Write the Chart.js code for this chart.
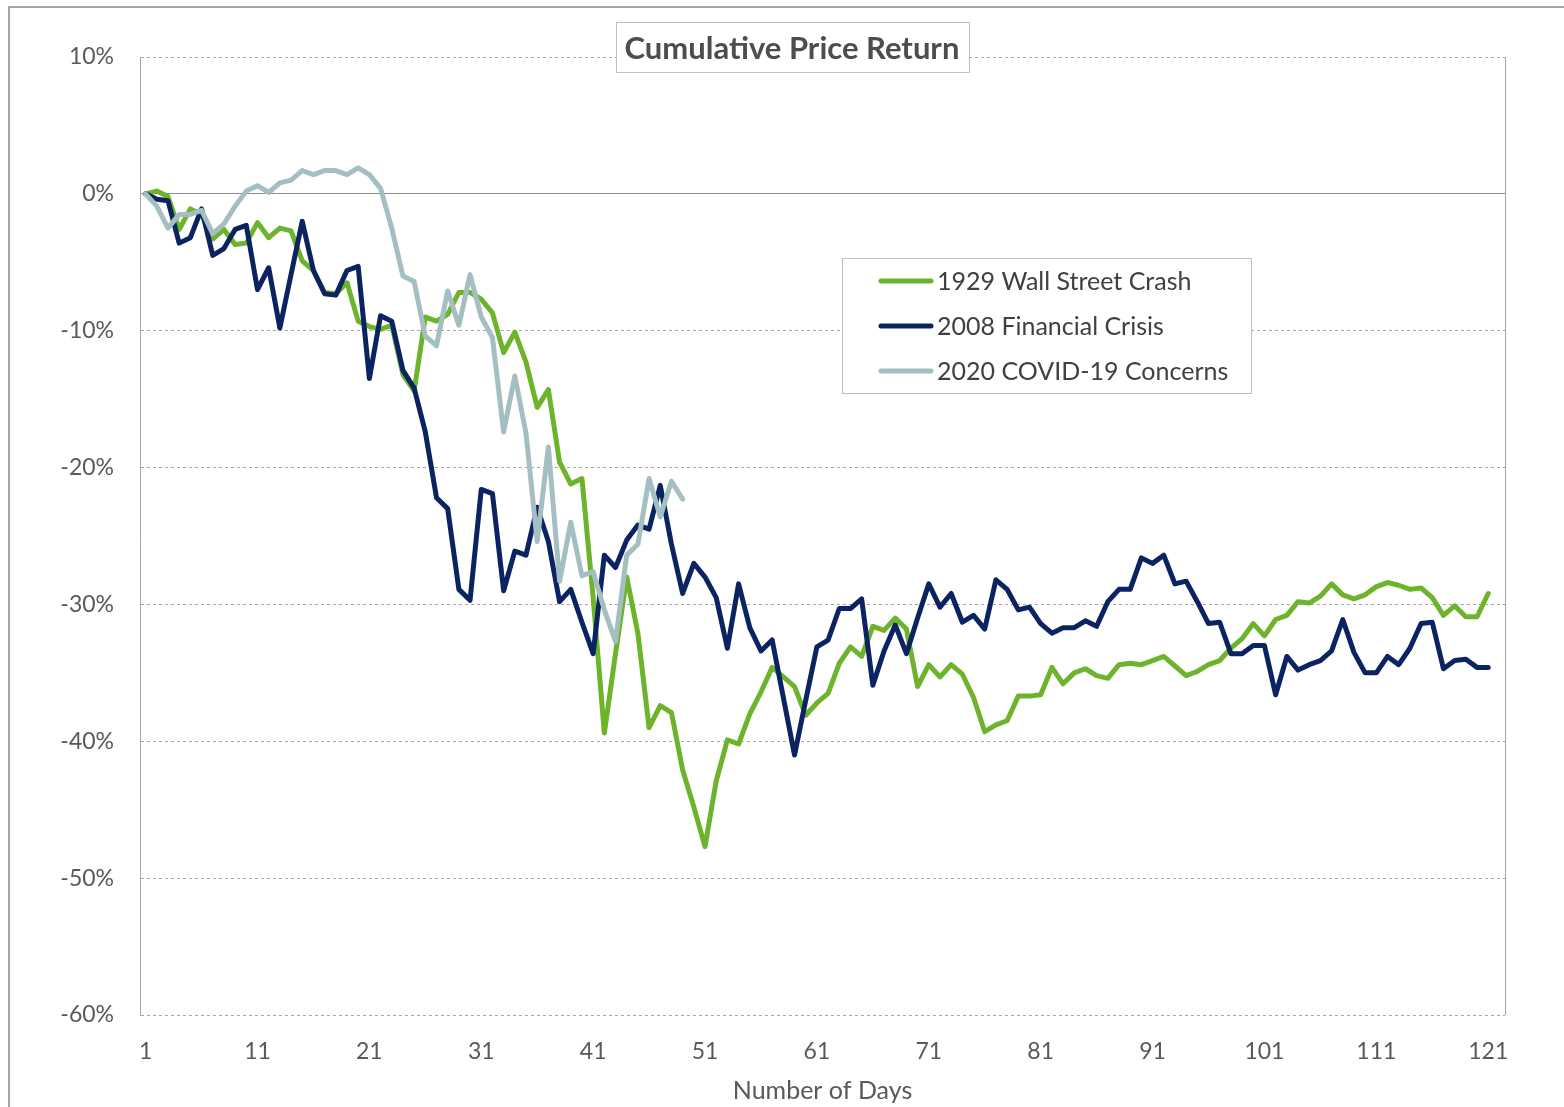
<!DOCTYPE html>
<html>
<head>
<meta charset="utf-8">
<script src="https://cdn.jsdelivr.net/npm/chart.js@4.4.1/dist/chart.umd.min.js"></script>
<style>
  html, body { margin: 0; padding: 0; background: #ffffff; }
  #wrap { width: 1564px; height: 1107px; position: relative; }
</style>
</head>
<body>
<div id="wrap"><canvas id="chart"></canvas></div>
<script>
// day index on the category axis (one spare slot at the end, like the original sheet)
const days = Array.from({ length: 122 }, (_, i) => i + 1);

const yTicks = [10, 0, -10, -20, -30, -40, -50, -60];

const seriesNames = ['1929 Wall Street Crash', '2008 Financial Crisis', '2020 COVID-19 Concerns'];

// cumulative price return, %
const crash1929 = [
    0, 0.2, -0.2, -2.6, -1.1, -1.5, -3.3, -2.6, -3.7, -3.6,
    -2.1, -3.2, -2.5, -2.7, -4.9, -5.6, -7.2, -7.3, -6.5, -9.3,
    -9.7, -9.9, -9.6, -13.2, -14.4, -9.0, -9.3, -8.8, -7.2, -7.2,
    -7.7, -8.7, -11.6, -10.1, -12.3, -15.6, -14.3, -19.6, -21.2, -20.8,
    -29.5, -39.4, -33.6, -28.0, -32.1, -39.0, -37.4, -37.9, -42.1, -44.8,
    -47.7, -42.9, -39.9, -40.2, -38.0, -36.4, -34.6, -35.3, -36.0, -38.1,
    -37.2, -36.5, -34.3, -33.1, -33.8, -31.6, -31.9, -31.0, -31.8, -36.0,
    -34.4, -35.3, -34.4, -35.1, -36.8, -39.3, -38.8, -38.5, -36.7, -36.7,
    -36.6, -34.6, -35.8, -35.0, -34.7, -35.2, -35.4, -34.4, -34.3, -34.4,
    -34.1, -33.8, -34.5, -35.2, -34.9, -34.4, -34.1, -33.2, -32.5, -31.4,
    -32.3, -31.1, -30.8, -29.8, -29.9, -29.4, -28.5, -29.3, -29.6, -29.3,
    -28.7, -28.4, -28.6, -28.9, -28.8, -29.5, -30.8, -30.1, -30.9, -30.9,
    -29.2
];

const crisis2008 = [
    0, -0.4, -0.5, -3.6, -3.2, -1.1, -4.5, -4.0, -2.6, -2.3,
    -7.0, -5.4, -9.8, -5.9, -2.0, -5.6, -7.3, -7.4, -5.6, -5.3,
    -13.5, -8.9, -9.3, -12.9, -14.2, -17.4, -22.2, -23.0, -28.9, -29.7,
    -21.6, -21.9, -29.0, -26.1, -26.4, -22.9, -25.4, -29.8, -28.9, -31.3,
    -33.6, -26.4, -27.3, -25.3, -24.2, -24.5, -21.3, -25.6, -29.2, -27.0,
    -28.0, -29.5, -33.2, -28.5, -31.7, -33.4, -32.6, -36.8, -41.0, -37.0,
    -33.1, -32.6, -30.3, -30.3, -29.6, -35.9, -33.4, -31.5, -33.6, -31.0,
    -28.5, -30.2, -29.2, -31.3, -30.8, -31.8, -28.2, -28.9, -30.4, -30.2,
    -31.4, -32.1, -31.7, -31.7, -31.2, -31.6, -29.8, -28.9, -28.9, -26.6,
    -27.0, -26.4, -28.5, -28.3, -29.8, -31.4, -31.3, -33.6, -33.6, -33.0,
    -33.0, -36.6, -33.8, -34.8, -34.4, -34.1, -33.4, -31.1, -33.5, -35.0,
    -35.0, -33.8, -34.4, -33.2, -31.4, -31.3, -34.7, -34.1, -34.0, -34.6,
    -34.6
];

const covid2020 = [
    0, -0.9, -2.5, -1.5, -1.5, -1.2, -2.9, -2.2, -0.9, 0.2,
    0.6, 0.1, 0.8, 1.0, 1.7, 1.4, 1.7, 1.7, 1.4, 1.9,
    1.4, 0.4, -2.5, -6.0, -6.4, -10.4, -11.1, -7.1, -9.6, -5.9,
    -9.0, -10.5, -17.4, -13.3, -17.5, -25.4, -18.5, -28.3, -24.0, -27.9,
    -27.6, -30.4, -32.7, -26.4, -25.6, -20.8, -23.6, -21.0, -22.3
];

const chartTitle = 'Cumulative Price Return';
const xTitle = 'Number of Days';

const GREEN = '#6db42c';
const NAVY = '#0b2360';
const GREY = '#a4bfc2';
const TEXT = '#595959';
const FONT = 'Lato, "Open Sans", sans-serif';

// frame, right edge of plot, title box and legend box
const decorations = {
    id: 'decorations',
    beforeDraw(chart) {
        const ctx = chart.ctx;
        ctx.save();
        ctx.strokeStyle = '#a6a6a6';
        ctx.lineWidth = 2;
        ctx.strokeRect(9, 7, 1700, 1300);
        ctx.restore();
    },
    beforeDatasetsDraw(chart) {
        const { ctx, chartArea } = chart;
        ctx.save();
        ctx.strokeStyle = '#a6a6a6';
        ctx.lineWidth = 1;
        ctx.beginPath();
        ctx.moveTo(Math.round(chartArea.right) + 0.5, chartArea.top);
        ctx.lineTo(Math.round(chartArea.right) + 0.5, chartArea.bottom);
        ctx.stroke();
        ctx.restore();
    },
    afterDraw(chart) {
        const ctx = chart.ctx;
        ctx.save();

        // title box
        ctx.fillStyle = '#ffffff';
        ctx.fillRect(616, 22, 353, 50);
        ctx.strokeStyle = '#bfbfbf';
        ctx.lineWidth = 1;
        ctx.strokeRect(616.5, 22.5, 353, 50);
        ctx.fillStyle = '#4d4d4d';
        ctx.font = 'bold 31px ' + FONT;
        ctx.textAlign = 'center';
        ctx.textBaseline = 'middle';
        ctx.fillText(chartTitle, 792, 49);

        // legend box
        ctx.fillStyle = '#ffffff';
        ctx.fillRect(842, 258, 409, 135);
        ctx.strokeStyle = '#bfbfbf';
        ctx.strokeRect(842.5, 258.5, 409, 135);
        ctx.font = '25px ' + FONT;
        ctx.textAlign = 'left';
        chart.data.datasets.forEach((ds, i) => {
            const y = 281 + i * 45;
            ctx.strokeStyle = ds.borderColor;
            ctx.lineWidth = 5;
            ctx.lineCap = 'round';
            ctx.beginPath();
            ctx.moveTo(881, y);
            ctx.lineTo(931, y);
            ctx.stroke();
            ctx.fillStyle = '#404040';
            ctx.fillText(ds.label, 937, y + 1);
        });
        ctx.restore();
    }
};

const lineStyle = {
    borderWidth: 5,
    pointRadius: 0,
    pointHoverRadius: 0,
    tension: 0,
    fill: false,
    borderCapStyle: 'round',
    borderJoinStyle: 'round'
};

new Chart(document.getElementById('chart'), {
    type: 'line',
    data: {
        labels: days,
        datasets: [
            { label: seriesNames[0], data: crash1929, borderColor: GREEN, order: 3, ...lineStyle },
            { label: seriesNames[1], data: crisis2008, borderColor: NAVY, order: 2, ...lineStyle },
            { label: seriesNames[2], data: covid2020, borderColor: GREY, order: 1, ...lineStyle }
        ]
    },
    plugins: [decorations],
    options: {
        responsive: true,
        maintainAspectRatio: false,
        animation: false,
        layout: { padding: { left: 0, right: 59, top: 57, bottom: 0 } },
        plugins: {
            legend: { display: false },
            title: { display: false },
            tooltip: { enabled: false }
        },
        scales: {
            x: {
                type: 'category',
                offset: true,
                grid: { display: false, drawTicks: false },
                border: { display: false },
                ticks: {
                    autoSkip: false,
                    maxRotation: 0,
                    padding: 23,
                    color: TEXT,
                    font: { family: FONT, size: 23 },
                    callback: function (value, index) {
                        return index % 10 === 0 ? String(days[index]) : '';
                    }
                },
                title: {
                    display: true,
                    text: xTitle,
                    color: TEXT,
                    font: { family: FONT, size: 25 },
                    padding: { top: 0, bottom: 1 }
                },
                afterFit(scale) { scale.height = 92; }
            },
            y: {
                min: -60,
                max: 10,
                afterBuildTicks(scale) {
                    scale.ticks = yTicks.map(v => ({ value: v }));
                },
                grid: {
                    drawTicks: false,
                    lineWidth: 1,
                    color: ctx => (ctx.tick && ctx.tick.value === 0) ? '#8c8c8c' : '#a6a6a6'
                },
                border: {
                    display: true,
                    color: '#a6a6a6',
                    width: 1,
                    dash: ctx => (ctx.tick && ctx.tick.value === 0) ? [] : [3, 3]
                },
                ticks: {
                    padding: 26,
                    color: TEXT,
                    font: { family: FONT, size: 23 },
                    callback: v => v + '%'
                },
                afterFit(scale) { scale.width = 140; }
            }
        }
    }
});
</script>
</body>
</html>
